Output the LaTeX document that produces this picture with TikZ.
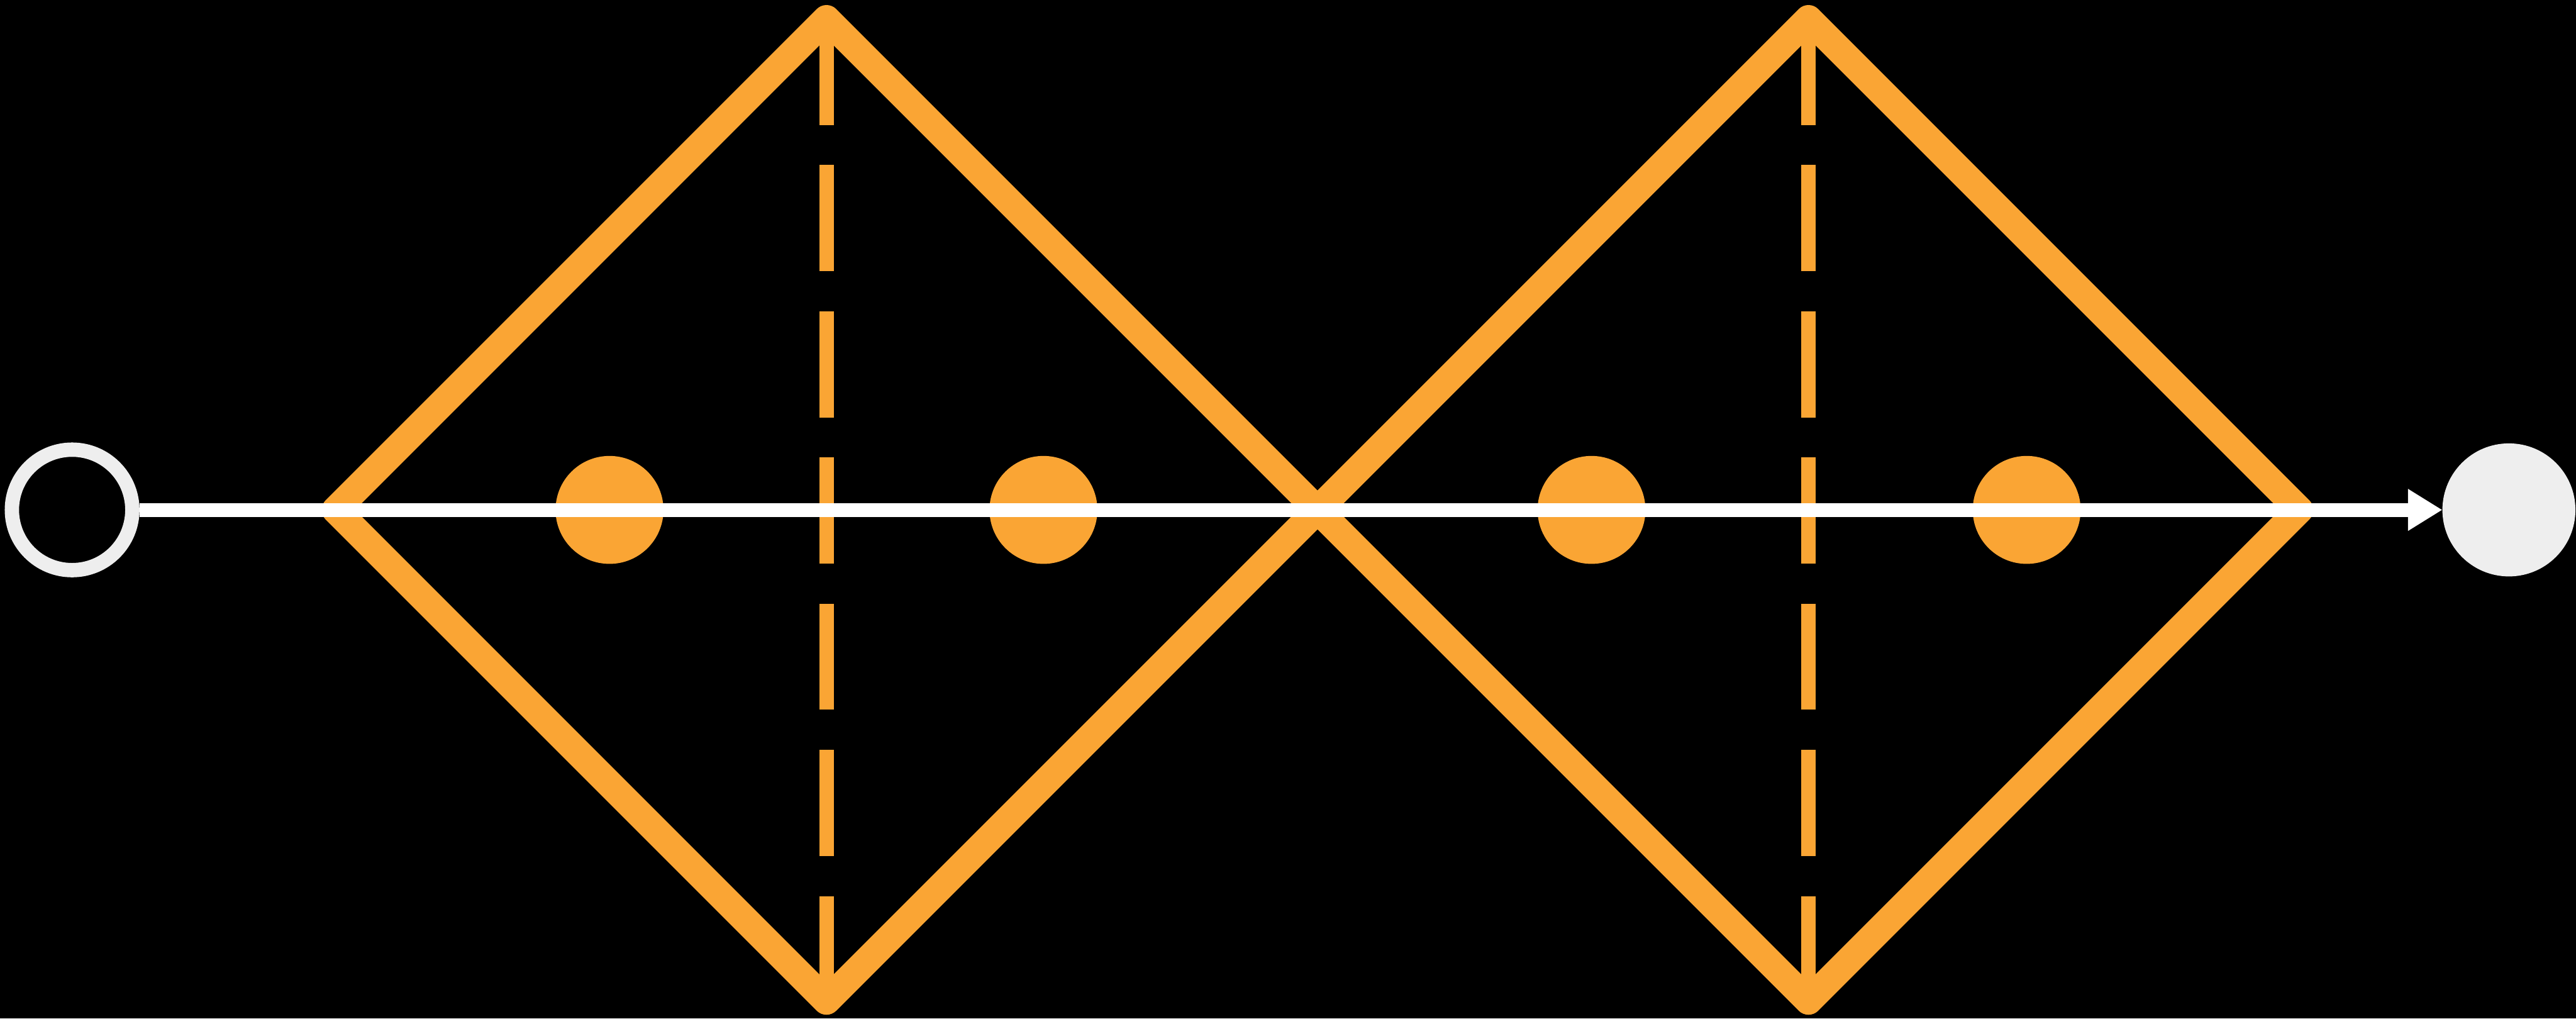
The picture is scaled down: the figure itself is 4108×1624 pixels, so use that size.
\documentclass[tikz,border=0pt]{standalone}
\usetikzlibrary{arrows.meta}
\definecolor{org}{RGB}{250,165,52}
\definecolor{ltgray}{RGB}{238,238,238}
\begin{document}
\begin{tikzpicture}[x=0.01cm,y=-0.01cm,
  diam/.style={draw=org,line width=12.5pt,line join=round},
  dashline/.style={draw=org,line width=6.6pt,dash pattern=on 48.1pt off 18.2pt},
  dot/.style={circle,fill=org,minimum size=1.72cm,inner sep=0pt,outer sep=0pt},
  startnode/.style={circle,draw=ltgray,line width=6.5pt,minimum size=1.92cm,inner sep=0pt},
  endnode/.style={circle,fill=ltgray,minimum size=2.12cm,inner sep=0pt,outer sep=0pt},
  flow/.style={draw=white,line width=6.3pt,-{Triangle[length=15.6pt,width=17.9pt]}}]
\fill[black] (0,0) rectangle (4108,1624);
\useasboundingbox (0,0) rectangle (4108,1624);
% diamond vertices
\coordinate (d1l) at (535,813);
\coordinate (d1t) at (1318,30);
\coordinate (d1r) at (2101,813);
\coordinate (d1b) at (1318,1596);
\coordinate (d2t) at (2884,30);
\coordinate (d2r) at (3667,813);
\coordinate (d2b) at (2884,1596);
% dashed axes
\draw[dashline] (d1t) -- (d1b);
\draw[dashline] (d2t) -- (d2b);
% diamonds
\draw[diam] (d1l) -- (d1t) -- (d1r) -- (d1b) -- cycle;
\draw[diam] (d1r) -- (d2t) -- (d2r) -- (d2b) -- cycle;
% dots
\node[dot] (p1) at (972,813) {};
\node[dot] (p2) at (1664,813) {};
\node[dot] (p3) at (2538,813) {};
\node[dot] (p4) at (3232,813) {};
% start and end
\node[startnode] (start) at (115,813) {};
\node[endnode] (end) at (4001,813) {};
\draw[flow] (start) -- (end);
\end{tikzpicture}
\end{document}
